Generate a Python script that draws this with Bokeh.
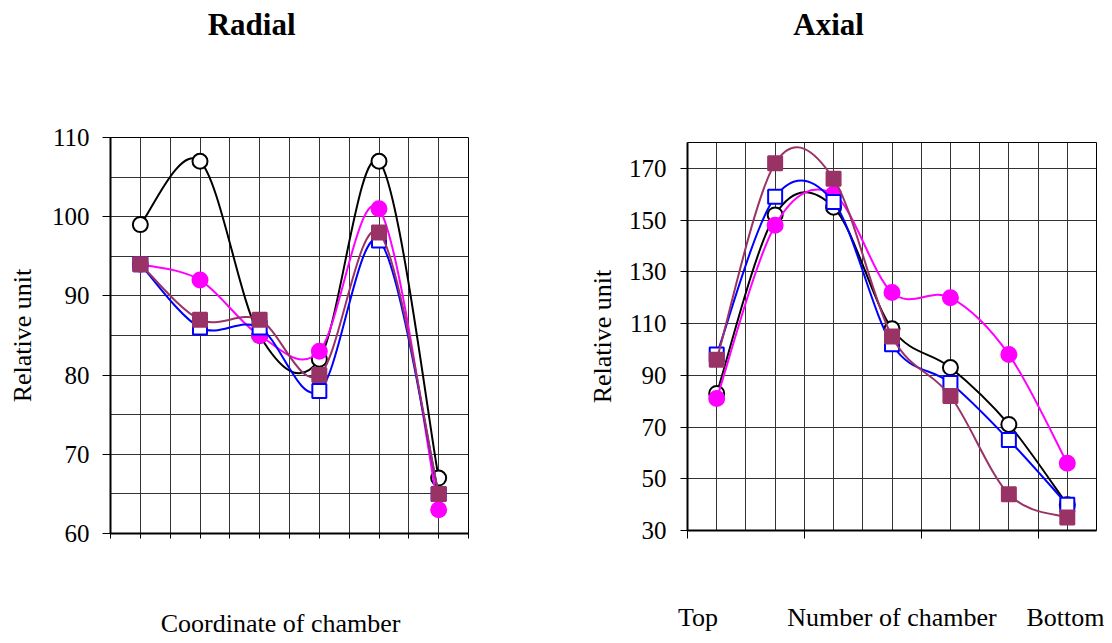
import numpy as np
from bokeh.plotting import figure
from bokeh.models import Range1d, FixedTicker, ColumnDataSource, CustomJSTickFormatter, LinearAxis
from bokeh.layouts import row, column
from bokeh.embed import file_html
from bokeh.resources import INLINE

# ---------------- data ----------------
radial_chamber = [1, 2, 3, 4, 5, 6]
radial_black = [99, 107, 85, 82, 107, 67]
radial_magenta = [94, 92, 85, 83, 101, 63]
radial_blue = [94, 86, 86, 78, 97, 65]
radial_maroon = [94, 87, 87, 80, 98, 65]
radial_yticks = [60, 70, 80, 90, 100, 110]

axial_chamber = [1, 2, 3, 4, 5, 6, 7]
axial_black = [83, 152, 155, 108, 93, 71, 40]
axial_magenta = [81, 148, 160, 122, 120, 98, 56]
axial_blue = [98, 159, 157, 102, 87, 65, 40]
axial_maroon = [96, 172, 166, 105, 82, 44, 35]
axial_yticks = [30, 50, 70, 90, 110, 130, 150, 170]

FONT = "Liberation Serif"
BLACK = "#000000"
MAGENTA = "#FF00FF"
BLUE = "#0000FF"
MAROON = "#993366"


def smooth_segments(xs, ys):
    x = np.asarray(xs, float)
    y = np.asarray(ys, float)
    n = len(x)
    i = np.arange(n - 1)
    prv = np.maximum(i - 1, 0)
    nxt = np.minimum(i + 2, n - 1)
    return dict(
        x0=x[:-1], y0=y[:-1], x1=x[1:], y1=y[1:],
        cx0=x[i] + (x[i + 1] - x[prv]) / 6.0,
        cy0=y[i] + (y[i + 1] - y[prv]) / 6.0,
        cx1=x[i + 1] - (x[nxt] - x[i]) / 6.0,
        cy1=y[i + 1] - (y[nxt] - y[i]) / 6.0,
    )


def make_fig(width, height, mb_left, mb_right, mb_top, mb_bottom, xr, yr):
    p = figure(width=width, height=height, output_backend="svg", toolbar_location=None,
               x_range=Range1d(*xr), y_range=Range1d(*yr),
               min_border_left=mb_left, min_border_right=mb_right,
               min_border_top=mb_top, min_border_bottom=mb_bottom)
    p.background_fill_color = "white"
    p.border_fill_color = "white"
    p.outline_line_color = "black"
    p.outline_line_width = 1
    for ax in (p.xaxis[0], p.yaxis[0]):
        ax.axis_line_color = "black"
        ax.axis_line_width = 2
        ax.major_tick_line_color = "black"
        ax.major_tick_line_width = 1
        ax.major_tick_in = 0
        ax.minor_tick_line_color = None
        ax.major_label_text_font = FONT
        ax.major_label_text_font_size = "25px"
        ax.major_label_text_color = "black"
    p.yaxis.major_tick_out = 8
    p.yaxis.axis_label_text_font = FONT
    p.yaxis.axis_label_text_font_size = "26px"
    p.yaxis.axis_label_text_font_style = "normal"
    p.yaxis.axis_label_text_color = "black"
    # x-axis carries tick marks only
    p.xaxis.formatter = CustomJSTickFormatter(code="return ''")
    p.xaxis.major_label_text_font_size = "1px"
    p.xaxis.major_label_standoff = 0
    p.xgrid.grid_line_color = "#333333"
    p.ygrid.grid_line_color = "#333333"
    p.xgrid.grid_line_width = 1
    p.ygrid.grid_line_width = 1
    return p


def text_axis(p, side, ticks, labels, standoff, size="26px", bold=False):
    ax = LinearAxis(ticker=FixedTicker(ticks=ticks),
                    formatter=CustomJSTickFormatter(args=dict(labels=labels),
                                                    code="return labels[index]"))
    ax.axis_line_color = None
    ax.major_tick_line_color = None
    ax.minor_tick_line_color = None
    ax.major_tick_out = 0
    ax.major_tick_in = 0
    ax.major_label_standoff = standoff
    ax.major_label_text_font = FONT
    ax.major_label_text_font_size = size
    ax.major_label_text_font_style = "bold" if bold else "normal"
    ax.major_label_text_color = "black"
    p.add_layout(ax, side)


def add_series(p, xs, ys, color, marker, fill, size):
    src = ColumnDataSource(smooth_segments(xs, ys))
    p.bezier(x0="x0", y0="y0", x1="x1", y1="y1", cx0="cx0", cy0="cy0",
             cx1="cx1", cy1="cy1", source=src, line_color=color, line_width=2)
    p.scatter(xs, ys, marker=marker, size=size, line_color=color,
              fill_color=fill, line_width=2)


# ---------------- Radial ----------------
pr = make_fig(556, 640, 110, 88, 137, 107, (0, 12), (60, 110))
pr.yaxis.ticker = FixedTicker(ticks=radial_yticks)
pr.yaxis.major_label_standoff = 13
pr.yaxis.axis_label = "Relative unit"
pr.yaxis.axis_label_standoff = 12
pr.xaxis.ticker = FixedTicker(ticks=list(range(0, 13)))
pr.xaxis.major_tick_out = 5
pr.xgrid.ticker = FixedTicker(ticks=list(range(0, 13)))
pr.ygrid.ticker = FixedTicker(ticks=list(range(60, 111, 5)))

rx = [2 * c - 1 for c in radial_chamber]
add_series(pr, rx, radial_black, BLACK, "circle", "white", 15)
add_series(pr, rx, radial_magenta, MAGENTA, "circle", MAGENTA, 15)
add_series(pr, rx, radial_blue, BLUE, "square", "white", 14)
add_series(pr, rx, radial_maroon, MAROON, "square", MAROON, 14)

text_axis(pr, "above", [4.73], ["Radial"], 96, size="31px", bold=True)
text_axis(pr, "below", [5.70], ["Coordinate of chamber"], 70)

# ---------------- Axial ----------------
pa = make_fig(548, 635, 131, 8, 142, 105, (0, 14), (30, 180))
pa.yaxis.ticker = FixedTicker(ticks=axial_yticks)
pa.yaxis.major_tick_out = 7
pa.yaxis.major_label_standoff = 14
pa.yaxis.axis_label = "Relative unit"
pa.yaxis.axis_label_standoff = 9
pa.xaxis.ticker = FixedTicker(ticks=[0, 4, 8, 12])
pa.xaxis.major_tick_out = 8
pa.xgrid.ticker = FixedTicker(ticks=list(range(0, 15)))
pa.ygrid.ticker = FixedTicker(ticks=axial_yticks)

ax_x = [2 * c - 1 for c in axial_chamber]
add_series(pa, ax_x, axial_black, BLACK, "circle", "white", 15)
add_series(pa, ax_x, axial_magenta, MAGENTA, "circle", MAGENTA, 15)
add_series(pa, ax_x, axial_blue, BLUE, "square", "white", 14)
add_series(pa, ax_x, axial_maroon, MAROON, "square", MAROON, 14)

text_axis(pa, "above", [4.83], ["Axial"], 101, size="31px", bold=True)
text_axis(pa, "below", [0.36, 7.0, 12.97], ["Top", "Number of chamber", "Bottom"], 64)

layout = row(column(pr), column(pa))
open("out.html", "w").write(file_html(layout, INLINE))
